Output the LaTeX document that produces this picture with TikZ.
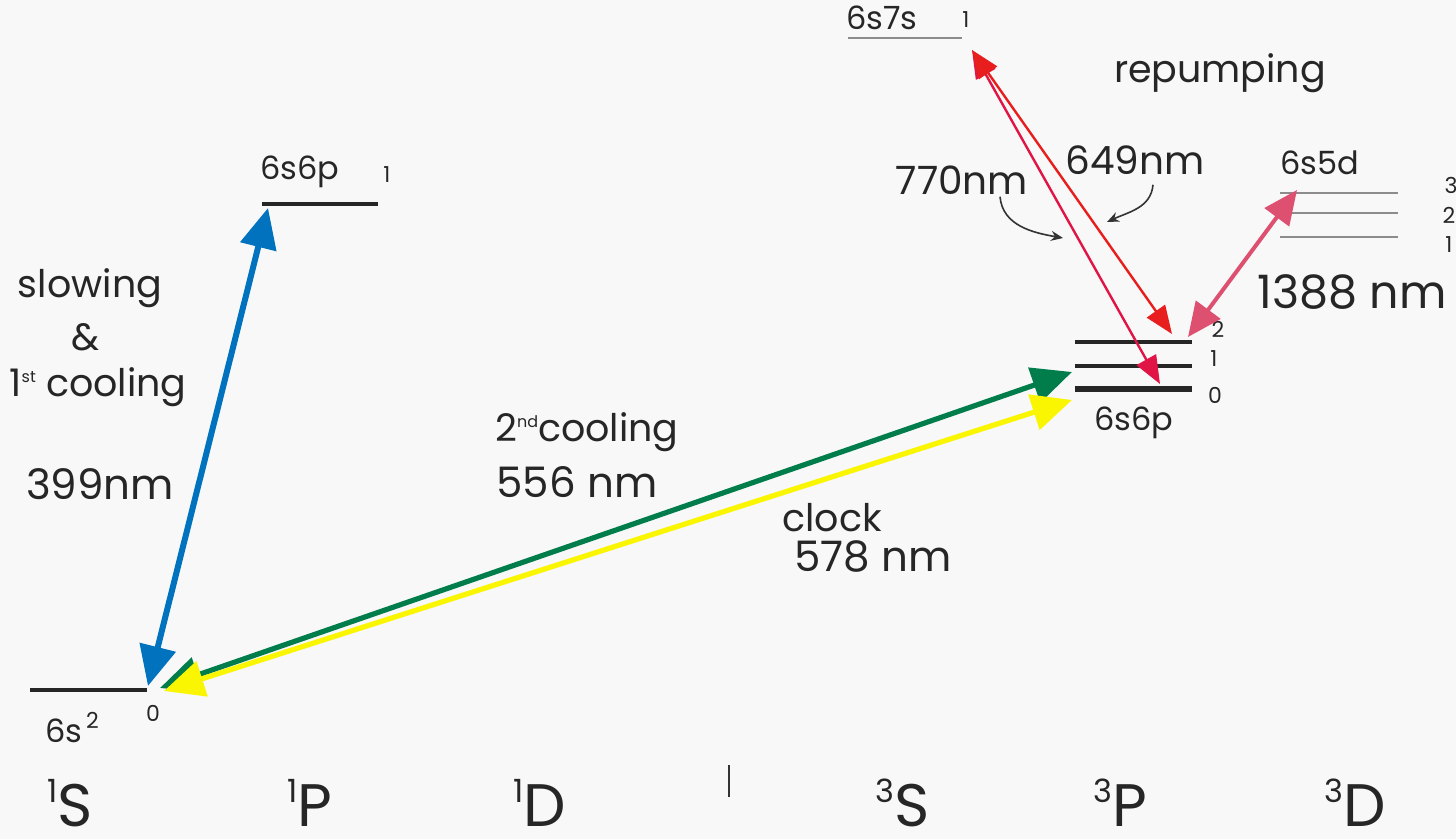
\documentclass[tikz,border=0pt]{standalone}
\usepackage{fontspec}
\setmainfont{Poppins}
\usepackage{xcolor}
\usetikzlibrary{arrows.meta, positioning}

\definecolor{paper}{RGB}{248,248,248}
\definecolor{bluelaser}{RGB}{0,114,190}
\definecolor{greenlaser}{RGB}{0,125,75}
\definecolor{yellowlaser}{RGB}{250,245,0}
\definecolor{redlaser}{RGB}{232,30,30}
\definecolor{crimsonlaser}{RGB}{225,20,70}
\definecolor{pinklaser}{RGB}{222,80,112}

\newcommand{\trm}[2]{\raisebox{12pt}{\fontsize{16}{16}\selectfont #1}#2}
\newcommand{\upsmall}[1]{\raisebox{7pt}{\fontsize{8}{8}\selectfont #1}}

\begin{document}
\begin{tikzpicture}[
    x=0.5pt, y=-0.5pt,
    every node/.style={font=\fontsize{19}{23}\selectfont, inner sep=0pt, text=black!85},
    small/.style={font=\fontsize{16}{19}\selectfont},
    num/.style={font=\fontsize{11}{13}\selectfont},
    big/.style={font=\fontsize{21}{25}\selectfont},
    term/.style={font=\fontsize{30}{34}\selectfont, anchor=base},
    level/.style={line width=2.3pt, draw=black!85},
    fine/.style={line width=0.6pt, draw=black!45},
    laser/.style={line width=3pt, {Triangle[length=20pt,width=18pt]}-{Triangle[length=20pt,width=18pt]}},
    repump/.style={line width=1.2pt, {Triangle[length=14pt,width=11pt]}-{Triangle[length=14pt,width=11pt]}},
    pointer/.style={-{Stealth[length=6pt,width=5pt]}, line width=0.8pt, draw=black!80}
]

\fill[paper] (0,0) rectangle (1456,839);
\useasboundingbox (0,0) rectangle (1456,839);

% Levels
\draw[level] (30,690) -- (147,690);
\draw[level] (262,204) -- (378,204);
\draw[level] (1075,342) -- (1192,342);
\draw[level] (1075,366) -- (1192,366);
\draw[level, line width=3pt] (1075,389) -- (1192,389);
\draw[fine] (848,38) -- (962,38);
\foreach \y in {193,213,237}
  \draw[fine] (1280,\y) -- (1398,\y);

% Level names
\node (gsname) [small] at (72,728) {6s\raisebox{7pt}{\fontsize{11}{11}\selectfont\,2}};
\node (gsj) [num] at (153,713) {0};
\node (sp) [small] at (300,172) {6s6p};
\node (spj) [num] at (387,175) {1};
\node (tp) [small] at (1134,423) {6s6p};
\node (tpj2) [num] at (1218,329) {2};
\node (tpj1) [num] at (1214,359) {1};
\node (tpj0) [num] at (1215,395) {0};
\node (ss) [small] at (882,18) {6s7s};
\node (ssj) [num] at (966,20) {1};
\node (sd) [small] at (1320,163) {6s5d};
\node (sdj3) [num] at (1451,185) {3};
\node (sdj2) [num] at (1449,215) {2};
\node (sdj1) [num] at (1449,245) {1};

% Terms
\node (t1s) [term] at (70,826) {\trm{1}{S}};
\node (t1p) [term] at (310,826) {\trm{1}{P}};
\node (t1d) [term] at (540,826) {\trm{1}{D}};
\draw[black!80, line width=0.9pt] (729,765) -- (729,797);
\node (t3s) [term] at (903,826) {\trm{3}{S}};
\node (t3p) [term] at (1120,826) {\trm{3}{P}};
\node (t3d) [term] at (1355,826) {\trm{3}{D}};

% Laser labels
\node (slow) at (90,288) {slowing};
\node (amp) at (86,337) {\&};
\node (cool1) at (98,387) {1\upsmall{st} cooling};
\node (nm399) [big] at (100,484) {399nm};
\node (cool2) at (587,432) {2\upsmall{nd}cooling};
\node (nm556) [big] at (577,482) {556 nm};
\node (clock) at (832,518) {clock};
\node (nm578) [big] at (873,557) {578 nm};
\node (repu) at (1220,73) {repumping};
\node (nm770) [font=\fontsize{19.5}{23}\selectfont] at (962,180) {770nm};
\node (nm649) [font=\fontsize{19.5}{23}\selectfont] at (1135,160) {649nm};
\node (nm1388) [font=\fontsize{23}{27}\selectfont] at (1352,292) {1388 nm};

% Arrow ends
\coordinate (gsA) at (148,686);
\coordinate (spA) at (268,208);
\coordinate (gsB) at (160,688);
\coordinate (tpB) at (1072,372);
\coordinate (gsC) at (164,691);
\coordinate (tpC) at (1072,400);
\coordinate (ssA) at (972,50);
\coordinate (tpD) at (1160,384);
\coordinate (tpE) at (1172,334);
\coordinate (tpF) at (1188,337);
\coordinate (sdA) at (1297,190);
\coordinate (p770) at (1063,238);
\coordinate (p649) at (1107,222);

% Arrows
\draw[laser, draw=bluelaser] (gsA) -- (spA);
\draw[laser, draw=greenlaser, line width=2.6pt] (gsB) -- (tpB);
\draw[laser, draw=yellowlaser, line width=2.6pt] (gsC) -- (tpC);
\draw[repump, draw=crimsonlaser] (ssA) -- (tpD);
\draw[repump, draw=redlaser] (ssA) -- (tpE);
\draw[laser, draw=pinklaser, line width=2pt, {Triangle[length=17pt,width=15pt]}-{Triangle[length=17pt,width=15pt]}] (tpF) -- (sdA);
\draw[pointer] (nm770.south) ++(38,2) to[out=-85, in=170] (p770);
\draw[pointer] (nm649.south) ++(18,10) to[out=-95, in=25] (p649);

\end{tikzpicture}
\end{document}
